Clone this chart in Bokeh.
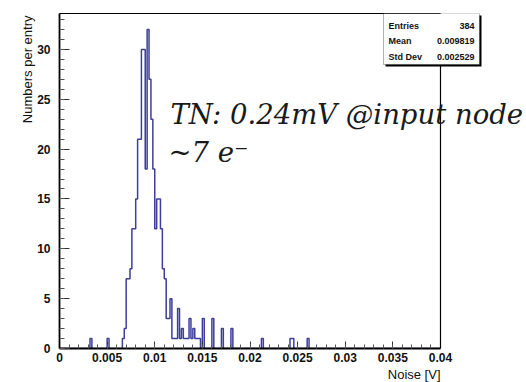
import math
import numpy as np
from bokeh.plotting import figure
from bokeh.models import (FixedTicker, Label, BoxAnnotation, Range1d, Span,
                          LinearAxis, Title)
from bokeh.embed import file_html
from bokeh.resources import INLINE

# ---- histogram data: 200 bins of 0.2 mV from 0 to 0.04 V ----
bin_width = 0.0002
n_bins = 200
filled_bins = [16, 25, 33, 34, 35, 36, 37, 38, 39, 40, 41, 42, 43, 44, 45, 46,
               47, 48, 49, 50, 51, 52, 53, 54, 55, 56, 57, 58, 59, 60, 61, 62,
               63, 64, 65, 66, 67, 68, 69, 70, 71, 72, 73, 75, 80, 85, 90, 106,
               121, 122, 130]
bin_counts = [1, 1, 1, 2, 7, 7, 8, 12, 12, 15, 21, 21, 30, 30, 18, 32,
              27, 23, 18, 12, 15, 15, 12, 8, 7, 3, 3, 5, 1, 1, 1, 4,
              1, 2, 1, 1, 1, 3, 1, 2, 1, 1, 1, 3, 3, 2, 2, 1,
              1, 1, 1]

x_ticks = [0, 0.005, 0.01, 0.015, 0.02, 0.025, 0.03, 0.035, 0.04]
x_tick_labels = ["0", "0.005", "0.01", "0.015", "0.02", "0.025", "0.03", "0.035", "0.04"]
y_ticks = [0, 5, 10, 15, 20, 25, 30]

stats_names = ["Entries", "Mean", "Std Dev"]
stats_values = ["384", "0.009819", "0.002529"]

x_title = "Noise [V]"
y_title = "Numbers per entry"
note_line1 = "TN: 0.24mV @input node"
note_line2 = "~7 e\u207b"

# ---- page geometry (canvas pixels) ----
W, H = 526, 382
FRAME_L, FRAME_R, FRAME_T, FRAME_B = 59, 440, 13, 348   # histogram frame
X_MAX = 0.04
Y_MAX = 33.6
X_VIEW = X_MAX * (W - FRAME_L) / (FRAME_R - FRAME_L)    # plot area runs to the page edge


def dx(px):
    return (px - FRAME_L) / (FRAME_R - FRAME_L) * X_MAX


def dy(py):
    return (FRAME_B - py) / (FRAME_B - FRAME_T) * Y_MAX


counts = np.zeros(n_bins)
counts[filled_bins] = bin_counts
edges = np.arange(n_bins + 1) * bin_width
step_x = np.concatenate([[0.0], np.repeat(edges, 2)[1:-1], [edges[-1]]])
step_y = np.concatenate([[0.0], np.repeat(counts, 2), [0.0]])

p = figure(width=W, height=H, output_backend="svg", toolbar_location=None,
           x_range=Range1d(0, X_VIEW), y_range=Range1d(0, Y_MAX),
           min_border_left=FRAME_L, min_border_right=0,
           min_border_top=FRAME_T, min_border_bottom=H - FRAME_B)
p.background_fill_color = "white"
p.border_fill_color = "white"
p.outline_line_color = None
p.xgrid.visible = False
p.ygrid.visible = False

p.line(step_x, step_y, line_color="#3d3d9c", line_width=1.5)

axis_font = "Liberation Sans"
for ax in (p.xaxis[0], p.yaxis[0]):
    ax.axis_line_color = "black"
    ax.axis_line_width = 1.8
    ax.major_tick_out = 0
    ax.minor_tick_out = 0
    ax.major_tick_line_color = "#333333"
    ax.minor_tick_line_color = "#555555"
    ax.major_label_text_font = axis_font
    ax.major_label_text_font_style = "bold"
    ax.major_label_text_font_size = "12px"
    ax.major_label_text_color = "#111111"

p.xaxis.bounds = (0, X_MAX)
p.xaxis.major_tick_in = 7
p.xaxis.minor_tick_in = 4
p.xaxis.ticker = FixedTicker(ticks=x_ticks,
                             minor_ticks=[round(i * 0.001, 3) for i in range(41)])
p.xaxis.major_label_overrides = dict(zip(x_ticks, x_tick_labels))
p.xaxis.major_label_standoff = 4
p.yaxis.major_tick_in = 10
p.yaxis.minor_tick_in = 5
p.yaxis.ticker = FixedTicker(ticks=y_ticks, minor_ticks=list(range(34)))
p.yaxis.major_label_standoff = 9

# top edge of the histogram frame
top_edge = LinearAxis(bounds=(0, X_MAX), ticker=FixedTicker(ticks=[]),
                      axis_line_color="black", axis_line_width=1.2,
                      major_tick_in=0, major_tick_out=0,
                      minor_tick_in=0, minor_tick_out=0,
                      major_label_text_font_size="0px")
p.add_layout(top_edge, "above")
# right edge of the histogram frame
p.add_layout(Span(location=X_MAX, dimension="height", line_color="black",
                  line_width=1.2))

# axis titles at the axis ends
p.add_layout(Title(text=y_title, align="right", offset=2, standoff=0,
                   text_font=axis_font, text_font_style="normal",
                   text_font_size="13px", text_color="#111111"), "left")
p.add_layout(Title(text=x_title, align="right", offset=W - FRAME_R, standoff=0,
                   text_font=axis_font, text_font_style="normal",
                   text_font_size="13px", text_color="#111111"), "below")

# statistics box with its shadow
p.add_layout(BoxAnnotation(left=dx(385), right=dx(481), top=dy(15), bottom=dy(66),
                           fill_color="black", fill_alpha=1.0, line_alpha=0))
p.add_layout(BoxAnnotation(left=dx(383), right=dx(479), top=dy(13), bottom=dy(64),
                           fill_color="white", fill_alpha=1.0,
                           line_color="black", line_width=1))
for i, (name, val) in enumerate(zip(stats_names, stats_values)):
    yrow = dy(25 + 15.5 * i)
    p.add_layout(Label(x=dx(388), y=yrow, text=name, text_align="left",
                       text_baseline="middle", text_font=axis_font,
                       text_font_style="bold", text_font_size="9px", text_color="#111111"))
    p.add_layout(Label(x=dx(474), y=yrow, text=val, text_align="right",
                       text_baseline="middle", text_font=axis_font,
                       text_font_style="bold", text_font_size="9px", text_color="#111111"))

# annotation text
p.add_layout(Label(x=dx(170), y=dy(113), text=note_line1, text_align="left",
                   text_baseline="alphabetic", text_font="DejaVu Serif",
                   text_font_style="italic", text_font_size="27.5px", text_color="#1a1a1a"))
p.add_layout(Label(x=dx(168), y=dy(151), text=note_line2, text_align="left",
                   text_baseline="alphabetic", text_font="DejaVu Serif",
                   text_font_style="italic", text_font_size="27.5px", text_color="#1a1a1a"))

open("out.html", "w").write(file_html(p, INLINE))
